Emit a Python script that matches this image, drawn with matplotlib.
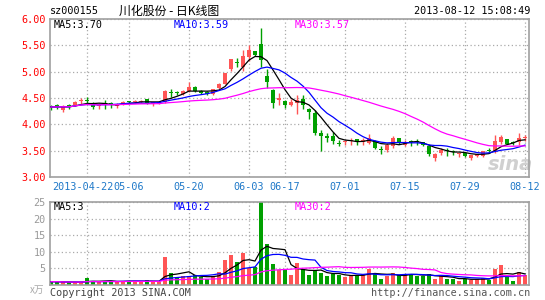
import matplotlib
matplotlib.use('Agg')
import matplotlib.pyplot as plt
import matplotlib.transforms as mtransforms
import numpy as np
import pandas as pd

# ---------------- data ----------------
opens = [4.34, 4.37, 4.28, 4.37, 4.37, 4.44, 4.45, 4.39, 4.34, 4.40,
         4.40, 4.34, 4.39, 4.43, 4.43, 4.42, 4.48, 4.39, 4.39, 4.42,
         4.60, 4.60, 4.58, 4.64, 4.71, 4.64, 4.62, 4.58, 4.69, 4.77,
         5.05, 5.18, 5.08, 5.27, 5.39, 5.52, 4.92, 4.66, 4.46, 4.44,
         4.37, 4.41, 4.48, 4.30, 4.21, 3.83, 3.76, 3.77, 3.64, 3.67,
         3.68, 3.72, 3.66, 3.64, 3.69, 3.53, 3.52, 3.59, 3.74, 3.61,
         3.67, 3.67, 3.66, 3.58, 3.36, 3.46, 3.50, 3.49, 3.43, 3.46,
         3.36, 3.40, 3.39, 3.51, 3.49, 3.67, 3.72, 3.65, 3.66, 3.74]
closes = [4.33, 4.33, 4.34, 4.33, 4.42, 4.45, 4.44, 4.33, 4.37, 4.39,
          4.36, 4.39, 4.43, 4.42, 4.44, 4.45, 4.40, 4.42, 4.42, 4.64,
          4.59, 4.59, 4.64, 4.70, 4.63, 4.60, 4.58, 4.67, 4.77, 4.97,
          5.24, 5.17, 5.30, 5.42, 5.31, 5.22, 4.80, 4.41, 4.50, 4.36,
          4.42, 4.46, 4.36, 4.24, 3.84, 3.77, 3.75, 3.68, 3.63, 3.68,
          3.71, 3.66, 3.70, 3.74, 3.55, 3.52, 3.61, 3.74, 3.64, 3.67,
          3.66, 3.66, 3.60, 3.44, 3.44, 3.52, 3.49, 3.48, 3.44, 3.39,
          3.41, 3.43, 3.49, 3.50, 3.69, 3.76, 3.63, 3.64, 3.75, 3.75]
highs = [4.37, 4.39, 4.37, 4.38, 4.44, 4.50, 4.51, 4.42, 4.40, 4.47,
         4.42, 4.41, 4.44, 4.44, 4.46, 4.47, 4.49, 4.43, 4.44, 4.65,
         4.67, 4.63, 4.65, 4.81, 4.72, 4.65, 4.63, 4.68, 4.79, 4.98,
         5.25, 5.26, 5.42, 5.50, 5.40, 5.83, 5.06, 4.67, 4.60, 4.46,
         4.49, 4.55, 4.55, 4.31, 4.27, 3.89, 3.83, 3.85, 3.71, 3.71,
         3.74, 3.73, 3.74, 3.82, 3.70, 3.58, 3.64, 3.77, 3.75, 3.70,
         3.71, 3.72, 3.67, 3.59, 3.45, 3.56, 3.55, 3.52, 3.46, 3.47,
         3.42, 3.44, 3.50, 3.55, 3.80, 3.80, 3.73, 3.68, 3.83, 3.80]
lows = [4.27, 4.30, 4.23, 4.29, 4.35, 4.39, 4.38, 4.30, 4.30, 4.30,
        4.31, 4.31, 4.37, 4.40, 4.40, 4.41, 4.39, 4.34, 4.38, 4.41,
        4.52, 4.55, 4.56, 4.62, 4.62, 4.58, 4.56, 4.56, 4.68, 4.76,
        5.02, 5.08, 5.02, 5.21, 5.30, 5.08, 4.69, 4.31, 4.37, 4.31,
        4.35, 4.19, 4.30, 4.11, 3.80, 3.49, 3.66, 3.62, 3.58, 3.60,
        3.60, 3.60, 3.60, 3.62, 3.54, 3.43, 3.47, 3.56, 3.62, 3.58,
        3.58, 3.60, 3.59, 3.40, 3.31, 3.42, 3.40, 3.42, 3.38, 3.38,
        3.32, 3.38, 3.38, 3.46, 3.46, 3.62, 3.62, 3.60, 3.61, 3.68]
volumes = [1.0, 1.0, 0.8, 0.8, 0.8, 0.8, 2.0, 1.2, 0.8, 1.2,
           1.2, 1.0, 1.2, 1.2, 1.2, 1.0, 1.4, 1.0, 1.0, 8.4,
           3.6, 2.5, 2.7, 2.7, 3.0, 2.3, 1.8, 2.8, 4.0, 7.5,
           9.0, 6.8, 9.6, 5.2, 5.5, 25.5, 12.5, 6.3, 4.4, 4.5,
           3.1, 6.6, 4.8, 3.1, 4.3, 3.7, 2.8, 3.4, 3.1, 2.3,
           2.7, 3.1, 3.4, 4.9, 3.3, 1.9, 2.6, 3.7, 2.9, 3.3,
           3.3, 2.6, 2.8, 3.4, 1.9, 2.6, 1.9, 1.9, 1.3, 1.9,
           1.6, 1.9, 2.1, 1.6, 4.9, 6.0, 2.6, 1.3, 3.9, 2.9]
date_labels = ['2013-04-22', '05-06', '05-20', '06-03', '06-17',
               '07-01', '07-15', '07-29', '08-12']
date_index = [6, 13, 23, 33, 39, 49, 59, 69, 79]
price_ticks = [3.0, 3.5, 4.0, 4.5, 5.0, 5.5, 6.0]
vol_ticks = [5, 10, 15, 20, 25]
price_ma_text = ['MA5:3.70', 'MA10:3.59', 'MA30:3.57']
vol_ma_text = ['MA5:3', 'MA10:2', 'MA30:2']
ma_windows = [5, 10, 30]
ma_colors = ['#000000', '#0000FF', '#FF00FF']

# ---------------- style ----------------
RED = '#FF5555'
GREEN = '#00A000'
GRID = '#AAAAAA'
FRAME = '#A0A0A0'
MONO = 'DejaVu Sans Mono'
CJK = ['Noto Sans CJK SC', 'DejaVu Sans']
FS = 7.3

W, H = 545, 300
fig = plt.figure(figsize=(W / 100, H / 100), dpi=100)
fig.patch.set_facecolor('white')


def fx(px):
    return px / W


def fy(py):
    return 1 - py / H


ax = fig.add_axes([fx(50), fy(177), 479 / W, 158 / H])
axv = fig.add_axes([fx(50), fy(285), 479 / W, 83 / H])

x = np.arange(len(closes))
o = np.array(opens)
c = np.array(closes)
hi = np.array(highs)
lo = np.array(lows)
v = np.array(volumes)
cols = [RED if cc >= oo else GREEN for oo, cc in zip(o, c)]

for a in (ax, axv):
    a.set_xlim(-0.17, 79.67)
    for s in a.spines.values():
        s.set_color(FRAME)
        s.set_linewidth(1.2)
    a.set_axisbelow(True)
    a.grid(True, color=GRID, linestyle=(0, (1, 2)), linewidth=0.9)
    a.tick_params(length=0)

# price panel
ax.set_ylim(3.0, 6.0)
ax.set_yticks(price_ticks)
ax.set_yticklabels([f'{p:.2f}' for p in price_ticks], color='#FF0000',
                   fontsize=FS, family=MONO)
ax.tick_params(axis='y', pad=3)
ax.set_xticks(date_index)
ax.set_xticklabels([])
# date labels between the panels (first one nudged left so it does not collide)
trans = mtransforms.blended_transform_factory(ax.transData, ax.transAxes)
for k, (d, lab) in enumerate(zip(date_index, date_labels)):
    dx = -0.75 if k == 0 else 0.0
    ax.text(d + dx, -9.5 / 158, lab, transform=trans, ha='center',
            va='center', color='#1E78C8', fontsize=FS, family=MONO)

ax.vlines(x, lo, hi, colors=cols, linewidth=1, zorder=2)
ax.bar(x, np.maximum(np.abs(c - o), 0.02), bottom=np.minimum(o, c),
       width=0.75, color=cols, linewidth=0, zorder=3)
cs = pd.Series(c)
for w, col in zip(ma_windows, ma_colors):
    ax.plot(x, cs.rolling(w, min_periods=1).mean(), color=col,
            linewidth=0.9, zorder=4)

ax.text(0.962, 0.08, 'sina', transform=ax.transAxes, ha='center',
        va='center', fontsize=14, fontweight='bold', fontstyle='italic',
        color='#D0D0D0', family='DejaVu Sans', zorder=1)

# volume panel
axv.set_ylim(0, 25)
axv.set_yticks(vol_ticks)
axv.set_yticklabels([str(t) for t in vol_ticks], color='#999999',
                    fontsize=FS, family=MONO)
axv.tick_params(axis='y', pad=3)
axv.set_xticks(date_index)
axv.set_xticklabels([])
axv.bar(x, v, width=0.82, color=cols, linewidth=0, zorder=2)
vs = pd.Series(v)
for w, col in zip(ma_windows, ma_colors):
    axv.plot(x, vs.rolling(w, min_periods=1).mean(), color=col,
             linewidth=0.9, zorder=3)

# texts
fig.text(fx(50), fy(11), 'sz000155', ha='left', va='center',
         fontsize=FS, family=MONO, color='#000000')
fig.text(fx(119), fy(11), '川化股份 - 日K线图', ha='left', va='center',
         fontsize=8.6, family=CJK, color='#000000')
fig.text(fx(530), fy(11), '2013-08-12 15:08:49', ha='right', va='center',
         fontsize=FS, family=MONO, color='#000000')

leg_x = [54, 174, 295]
for t, col, px in zip(price_ma_text, ma_colors, leg_x):
    fig.text(fx(px), fy(24.5), t, ha='left', va='center', fontsize=FS,
             family=MONO, color=col)
for t, col, px in zip(vol_ma_text, ma_colors, leg_x):
    fig.text(fx(px), fy(207), t, ha='left', va='center', fontsize=FS,
             family=MONO, color=col)

fig.text(fx(44), fy(290), 'x万', ha='right', va='center', fontsize=7,
         family=CJK, color='#AAAAAA')
fig.text(fx(50), fy(293), 'Copyright 2013 SINA.COM', ha='left', va='center',
         fontsize=FS, family=MONO, color='#444444')
fig.text(fx(530), fy(293), 'http://finance.sina.com.cn', ha='right',
         va='center', fontsize=FS, family=MONO, color='#555555')

fig.savefig('out.png', dpi=100)
